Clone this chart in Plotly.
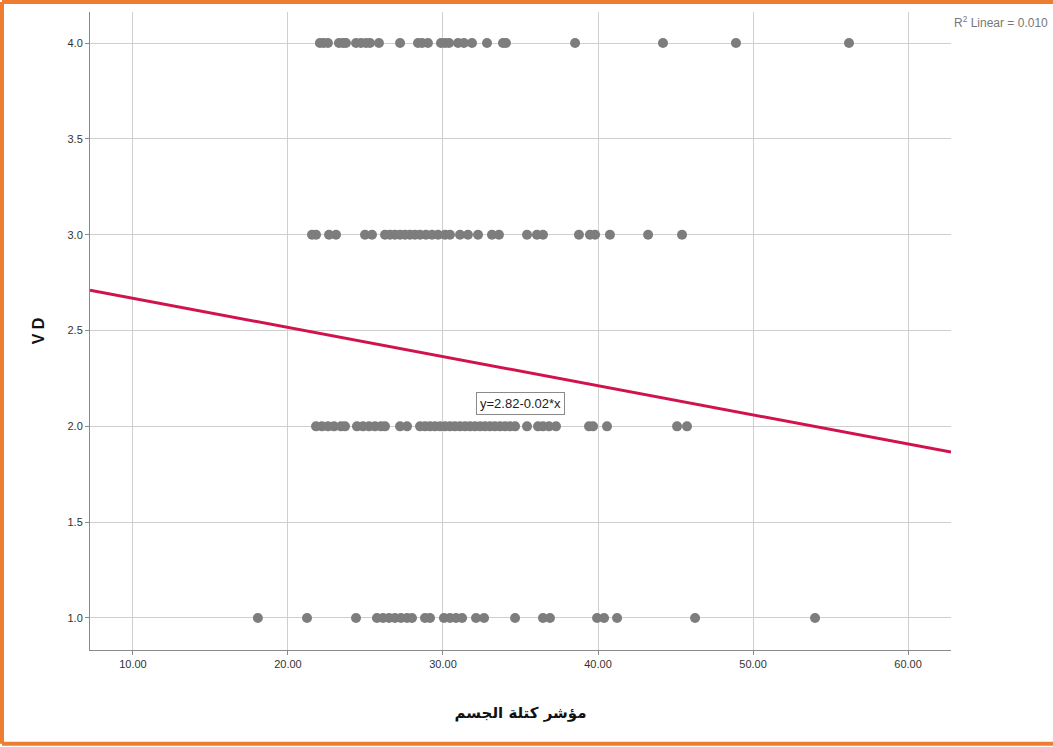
import plotly.graph_objects as go

# BMI values (x) for each VD level (y)
bmi_vd4 = [22.06, 22.3, 22.58, 23.29, 23.55, 23.74, 24.39, 24.71, 25.03, 25.29, 25.87,
           27.23, 28.39, 28.65, 29.03, 29.87, 30.13, 30.39, 30.97, 31.35, 31.87, 32.84,
           33.87, 34.06, 38.52, 44.19, 48.9, 56.19]
bmi_vd3 = [21.55, 21.81, 22.65, 23.1, 24.97, 25.42, 26.26, 26.58, 26.9, 27.23, 27.55,
           27.87, 28.19, 28.52, 28.9, 29.29, 29.68, 30.13, 30.45, 31.1, 31.61, 32.26,
           33.16, 33.61, 35.42, 36.06, 36.45, 38.77, 39.48, 39.81, 40.77, 43.23, 45.42]
bmi_vd2 = [21.81, 22.19, 22.58, 22.97, 23.42, 23.68, 24.45, 24.84, 25.23, 25.61, 26.0,
           26.26, 27.23, 27.68, 28.52, 28.84, 29.16, 29.48, 29.81, 30.13, 30.45, 30.77,
           31.1, 31.42, 31.74, 32.06, 32.39, 32.71, 33.03, 33.35, 33.68, 34.0, 34.32,
           34.65, 35.42, 36.13, 36.45, 36.84, 37.29, 39.42, 39.68, 40.58, 45.1, 45.74]
bmi_vd1 = [18.06, 21.23, 24.39, 25.74, 26.13, 26.52, 26.9, 27.29, 27.68, 28.0, 28.84,
           29.16, 30.06, 30.45, 30.84, 31.23, 32.13, 32.65, 34.65, 36.45, 36.9, 39.94,
           40.39, 41.23, 46.26, 54.0]
vd_levels = [4.0, 3.0, 2.0, 1.0]

fit_intercept = 2.82
fit_slope = -0.0152
fit_label = "y=2.82-0.02*x"
r2_label = "R<sup>2</sup> Linear = 0.010"

x_range = [7.23, 62.77]
y_range = [0.833, 4.162]
x_ticks = [10, 20, 30, 40, 50, 60]
x_ticklabels = ["10.00", "20.00", "30.00", "40.00", "50.00", "60.00"]
y_ticks = [1.0, 1.5, 2.0, 2.5, 3.0, 3.5, 4.0]
y_ticklabels = ["1.0", "1.5", "2.0", "2.5", "3.0", "3.5", "4.0"]

xs, ys = [], []
for lvl, arr in zip(vd_levels, [bmi_vd4, bmi_vd3, bmi_vd2, bmi_vd1]):
    xs += arr
    ys += [lvl] * len(arr)

fig = go.Figure()
fig.add_trace(go.Scatter(
    x=xs, y=ys, mode="markers",
    marker=dict(color="#7d7d7d", size=10, line=dict(width=0)),
    showlegend=False, hoverinfo="skip"))

fig.add_trace(go.Scatter(
    x=x_range, y=[fit_intercept + fit_slope * v for v in x_range],
    mode="lines", line=dict(color="#D0134D", width=3),
    showlegend=False, hoverinfo="skip"))

tick_font = dict(family="Liberation Sans, Arial, sans-serif", size=11, color="#333333")
border = dict(color="#ED7D31", width=4)
bx0, bx1, by0, by1 = -0.1022, 1.3, -0.147, 1.0157

fig.update_layout(
    width=1053, height=747,
    margin=dict(l=90, r=102, t=12, b=97),
    paper_bgcolor="white", plot_bgcolor="white",
    xaxis=dict(range=x_range, tickvals=x_ticks, ticktext=x_ticklabels,
               showgrid=True, gridcolor="#cfcfcf", gridwidth=1,
               showline=True, linecolor="#8a8a8a", linewidth=1,
               ticks="outside", ticklen=4, tickcolor="#8a8a8a",
               zeroline=False, tickfont=tick_font,
               title=dict(text="<b>مؤشر كتلة الجسم</b>",
                          font=dict(family="DejaVu Sans, sans-serif", size=15, color="#111111"),
                          standoff=38)),
    yaxis=dict(range=y_range, tickvals=y_ticks, ticktext=y_ticklabels,
               showgrid=True, gridcolor="#cfcfcf", gridwidth=1,
               showline=True, linecolor="#8a8a8a", linewidth=1,
               ticks="outside", ticklen=4, tickcolor="#8a8a8a",
               zeroline=False, tickfont=tick_font,
               title=dict(text="<b>V D</b>",
                          font=dict(family="Liberation Sans, Arial, sans-serif", size=16, color="#111111"),
                          standoff=18)),
    shapes=[
        dict(type="line", xref="paper", yref="paper", x0=bx0, x1=bx0, y0=by0, y1=by1, line=border, layer="above"),
        dict(type="line", xref="paper", yref="paper", x0=bx0, x1=bx1, y0=by1, y1=by1, line=border, layer="above"),
        dict(type="line", xref="paper", yref="paper", x0=bx0, x1=bx1, y0=by0, y1=by0, line=border, layer="above"),
    ],
    annotations=[
        dict(x=34.97, y=2.117, xref="x", yref="y", text=fit_label, showarrow=False,
             font=dict(family="Liberation Sans, Arial, sans-serif", size=13, color="#222222"),
             bgcolor="white", bordercolor="#8a8a8a", borderwidth=1, borderpad=3),
        dict(x=1.0012, y=0.985, xref="paper", yref="paper", text=r2_label, showarrow=False,
             xanchor="left", yanchor="middle",
             font=dict(family="Liberation Sans, Arial, sans-serif", size=12, color="#777777")),
    ],
)

fig.write_html("out.html")
